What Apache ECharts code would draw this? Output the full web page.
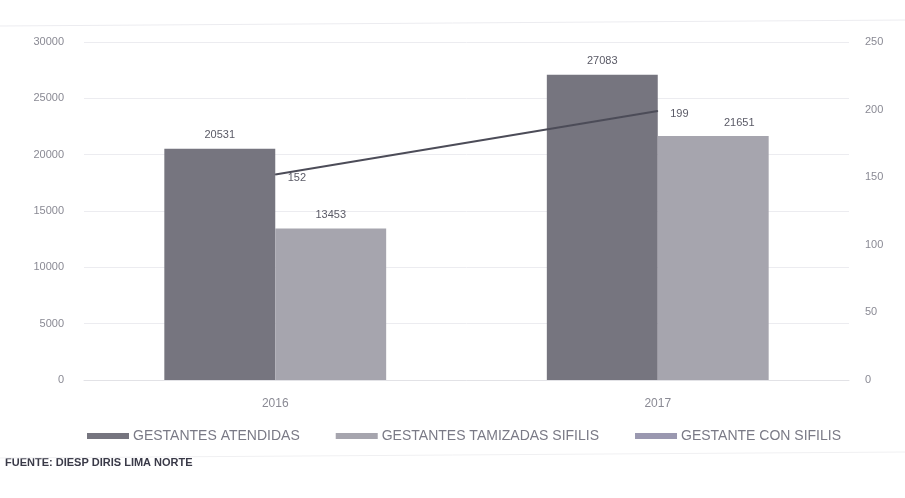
<!DOCTYPE html>
<html><head><meta charset="utf-8">
<script src="https://cdn.jsdelivr.net/npm/echarts@6/dist/echarts.min.js"></script>
<style>html,body{margin:0;padding:0;background:#fff}#c{width:905px;height:498px}</style>
</head><body><div id="c"></div>
<script>
const categories = ['2016', '2017'];
const atendidas = [20531, 27083];
const tamizadas = [13453, 21651];
const conSifilis = [152, 199];
const leftTicks = [0, 30000, 5000];
const rightTicks = [0, 250, 50];

const chart = echarts.init(document.getElementById('c'));
const font = 'Liberation Sans Narrow, Liberation Sans, DejaVu Sans Condensed, sans-serif';
const tamizadasData = tamizadas.map((v, i) => i === 1 ? { value: v, label: { offset: [26, 0] } } : v);
chart.setOption({
  animation: false,
  backgroundColor: '#fff',
  textStyle: { fontFamily: font },
  grid: { left: 84, right: 56, top: 42, bottom: 118 },
  legend: {
    bottom: 50, left: 82, itemGap: 36, itemWidth: 42, itemHeight: 6,
    textStyle: { color: '#7a7a86', fontSize: 14, fontFamily: 'Liberation Sans, sans-serif', padding: [0, 0, 0, -1] },
    data: [
      { name: 'GESTANTES ATENDIDAS', icon: 'rect' },
      { name: 'GESTANTES TAMIZADAS SIFILIS', icon: 'rect' },
      { name: 'GESTANTE CON SIFILIS', icon: 'rect', itemStyle: { color: '#9a98b0' } }
    ]
  },
  xAxis: {
    type: 'category', data: categories,
    axisLine: { lineStyle: { color: '#e2e2e6' } }, axisTick: { show: false },
    axisLabel: { color: '#8a8a94', fontSize: 12, margin: 18 }
  },
  yAxis: [
    { type: 'value', min: leftTicks[0], max: leftTicks[1], interval: leftTicks[2],
      axisLine: { show: false }, axisTick: { show: false },
      axisLabel: { color: '#8a8a94', fontSize: 11, margin: 20, formatter: v => String(v) },
      splitLine: { lineStyle: { color: '#ececf0' } } },
    { type: 'value', min: rightTicks[0], max: rightTicks[1], interval: rightTicks[2],
      axisLine: { show: false }, axisTick: { show: false },
      axisLabel: { color: '#8a8a94', fontSize: 11, margin: 16 },
      splitLine: { show: false } }
  ],
  series: [
    { name: 'GESTANTES ATENDIDAS', type: 'bar', data: atendidas, barGap: '0%', barCategoryGap: '42%',
      itemStyle: { color: '#76757f' },
      label: { show: true, position: 'top', distance: 8, color: '#5a5a66', fontSize: 11 } },
    { name: 'GESTANTES TAMIZADAS SIFILIS', type: 'bar', data: tamizadasData,
      itemStyle: { color: '#a6a5ae' },
      label: { show: true, position: 'top', distance: 8, color: '#5a5a66', fontSize: 11 } },
    { name: 'GESTANTE CON SIFILIS', type: 'line', yAxisIndex: 1, data: conSifilis,
      symbol: 'circle', symbolSize: 1, showSymbol: true,
      lineStyle: { color: '#4c4c58', width: 2 }, itemStyle: { color: '#4c4c58' },
      label: { show: true, position: 'right', distance: 12, color: '#5a5a66', fontSize: 11, offset: [0, 3] } }
  ],
  graphic: [
    { type: 'text', left: 5, top: 457,
      style: { text: 'FUENTE: DIESP DIRIS LIMA NORTE', fill: '#3a3a48', font: 'bold 11px ' + font } },
    { type: 'line', shape: { x1: 0, y1: 26, x2: 905, y2: 20 }, style: { stroke: '#ececf0', lineWidth: 1 } },
    { type: 'line', shape: { x1: 0, y1: 458, x2: 905, y2: 452 }, style: { stroke: '#f0f0f2', lineWidth: 1 } }
  ]
});
</script></body></html>
